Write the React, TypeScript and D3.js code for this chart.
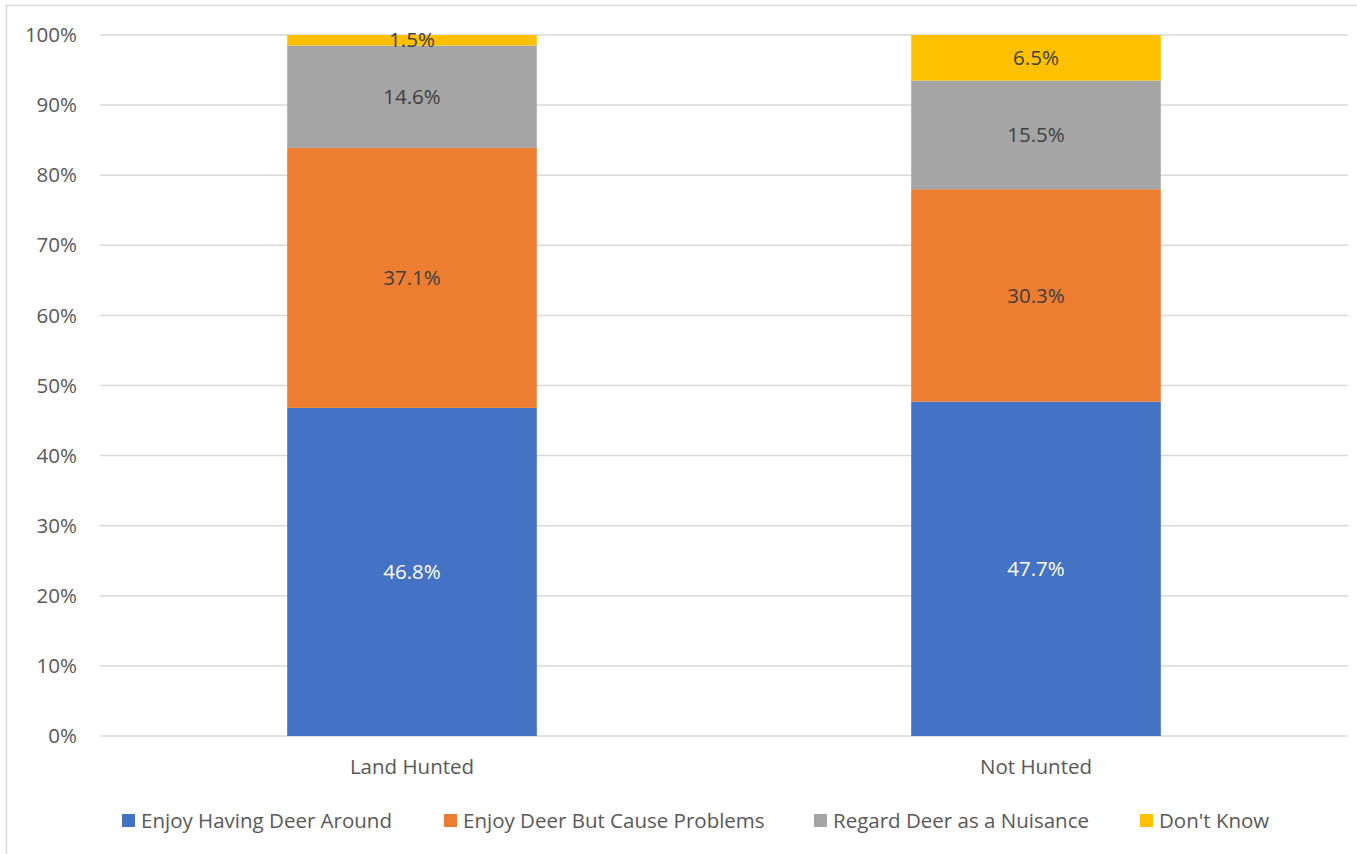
import React from "react";
import * as d3 from "d3";

const categories = ["Land Hunted", "Not Hunted"];
const seriesNames = [
  "Enjoy Having Deer Around",
  "Enjoy Deer But Cause Problems",
  "Regard Deer as a Nuisance",
  "Don't Know",
];
const enjoyValues = [46.8, 47.7];
const problemValues = [37.1, 30.3];
const nuisanceValues = [14.6, 15.5];
const dontKnowValues = [1.5, 6.5];
const yTicks = [0, 10, 20, 30, 40, 50, 60, 70, 80, 90, 100];

const colors = ["#4472C4", "#ED7D31", "#A5A5A5", "#FFC000"];
const labelColors = ["#FFFFFF", "#404040", "#404040", "#404040"];
const FONT = "'Open Sans', 'Noto Sans', sans-serif";
const FS = 20.5;

export default function App() {
  const width = 1357;
  const height = 854;
  const left = 100;
  const right = 1348;
  const top = 35;
  const bottom = 736;

  const rows = categories.map((c, i) => ({
    cat: c,
    s0: enjoyValues[i],
    s1: problemValues[i],
    s2: nuisanceValues[i],
    s3: dontKnowValues[i],
  }));
  const keys = ["s0", "s1", "s2", "s3"];
  const stacked = d3.stack<any>().keys(keys)(rows);

  const x = d3.scaleBand().domain(categories).range([left, right]).paddingInner(0.6).paddingOuter(0.3);
  const y = d3.scaleLinear().domain([0, 100]).range([bottom, top]);

  // legend swatch positions
  const legendX = [122, 444, 814, 1140];

  return (
    <svg width={width} height={height} style={{ position: "absolute", left: 0, top: 0, background: "#fff" }} fontFamily={FONT}>
      <rect x={6.5} y={5.5} width={width + 10} height={height + 10} fill="#fff" stroke="#D9D9D9" strokeWidth={1.5} />
      {yTicks.map((t) => (
        <g key={t}>
          <line x1={left} x2={right} y1={y(t)} y2={y(t)} stroke="#D9D9D9" strokeWidth={1.5} />
          <text x={77} y={y(t)} dy="0.35em" textAnchor="end" fontSize={FS} fill="#595959">
            {t}%
          </text>
        </g>
      ))}
      {stacked.map((layer, si) => (
        <g key={si}>
          {layer.map((d: any, ci: number) => {
            const x0 = x(categories[ci])!;
            const y0 = y(d[1]);
            const h = y(d[0]) - y(d[1]);
            const v = d[1] - d[0];
            return (
              <g key={ci}>
                <rect x={x0} y={y0} width={x.bandwidth()} height={h} fill={colors[si]} />
                <text
                  x={x0 + x.bandwidth() / 2}
                  y={y0 + h / 2}
                  dy="0.35em"
                  textAnchor="middle"
                  fontSize={FS}
                  fill={labelColors[si]}
                >
                  {v.toFixed(1)}%
                </text>
              </g>
            );
          })}
        </g>
      ))}
      {categories.map((c) => (
        <text key={c} x={x(c)! + x.bandwidth() / 2} y={767} dy="0.35em" textAnchor="middle" fontSize={FS} fill="#595959">
          {c}
        </text>
      ))}
      {seriesNames.map((n, i) => (
        <g key={n}>
          <rect x={legendX[i]} y={814} width={13} height={13} fill={colors[i]} />
          <text x={legendX[i] + 19} y={820.5} dy="0.35em" fontSize={FS} fill="#595959">
            {n}
          </text>
        </g>
      ))}
    </svg>
  );
}
